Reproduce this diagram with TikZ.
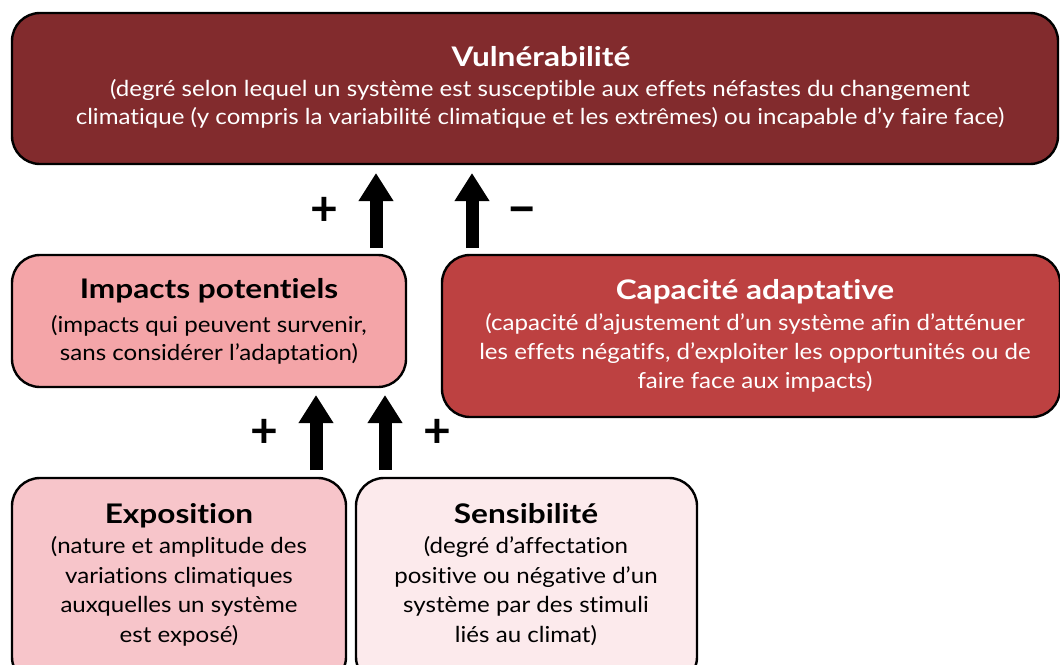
\documentclass[tikz,border=0pt]{standalone}
\usepackage{fontspec}
\setmainfont{Lato}
\newfontfamily\bodyf{Lato}[FakeStretch=1.095, Ligatures=NoCommon]
\newfontfamily\ttlf{Lato}[FakeStretch=1.17, Ligatures=NoCommon]
\usetikzlibrary{arrows.meta}
\definecolor{vulc}{HTML}{822B2D}
\definecolor{capc}{HTML}{BD4141}
\definecolor{impc}{HTML}{F4A5A8}
\definecolor{expc}{HTML}{F7C5CA}
\definecolor{sensc}{HTML}{FCEAEC}
\tikzset{
  box/.style={draw=black, line width=2.4pt, rounded corners=28pt},
  ttl/.style={anchor=base, inner sep=0pt, font=\ttlf\fontsize{27}{30}\selectfont\bfseries},
  ln/.style={anchor=base, inner sep=0pt, font=\bodyf\fontsize{22}{29}\selectfont},
  bigarrow/.style={line width=13pt, -{Triangle[width=33pt,length=28pt]}},
  sign/.style={inner sep=0pt, font=\fontsize{48}{48}\selectfont\bfseries}
}
\begin{document}
\begin{tikzpicture}[x=1pt,y=-1pt]
\useasboundingbox (0,0) rectangle (1060,664);
% boxes
\path[box, fill=vulc] (12,13) rectangle (1058,164);
\coordinate (vul) at (535,89);
\path[box, fill=impc] (12,255) rectangle (406,387);
\coordinate (imp) at (209,321);
\path[box, fill=capc] (442,255) rectangle (1060,417);
\coordinate (cap) at (751,336);
\path[box, fill=expc] (12,478) rectangle (346,685);
\coordinate (exp) at (179,580);
\path[box, fill=sensc] (356,478) rectangle (697,685);
\coordinate (sens) at (526,580);
% texts
\begin{scope}[text=white]
\node[ttl] (vt) at (541,66) {Vulnérabilité};
\node[ln] (v1) at (540,96) {(degré selon lequel un système est susceptible aux effets néfastes du changement};
\node[ln] (v2) at (540,124) {climatique (y compris la variabilité climatique et les extrêmes) ou incapable d’y faire face)};
\node[ttl] (ct) at (755,299) {Capacité adaptative};
\node[ln] (c1) at (755,330) {(capacité d’ajustement d’un système afin d’atténuer};
\node[ln] (c2) at (755,359) {les effets négatifs, d’exploiter les opportunités ou de};
\node[ln] (c3) at (755,388) {faire face aux impacts)};
\end{scope}
\node[ttl] (it) at (209,298) {Impacts potentiels};
\node[ln] (i1) at (209,332) {(impacts qui peuvent survenir,};
\node[ln] (i2) at (209,360) {sans considérer l’adaptation)};
\node[ttl] (et) at (179,523) {Exposition};
\node[ln] (e1) at (179,553) {(nature et amplitude des};
\node[ln] (e2) at (179,583) {variations climatiques};
\node[ln] (e3) at (179,612) {auxquelles un système};
\node[ln] (e4) at (179,642) {est exposé)};
\node[ttl] (st) at (526,523) {Sensibilité};
\node[ln] (s1) at (526,553) {(degré d’affectation};
\node[ln] (s2) at (526,583) {positive ou négative d’un};
\node[ln] (s3) at (526,612) {système par des stimuli};
\node[ln] (s4) at (526,642) {liés au climat)};
% arrows
\coordinate (a1s) at (376,248); \coordinate (a1e) at (376,173);
\coordinate (a2s) at (472,248); \coordinate (a2e) at (472,173);
\coordinate (a3s) at (316,470); \coordinate (a3e) at (316,395);
\coordinate (a4s) at (385,470); \coordinate (a4e) at (385,395);
\draw[bigarrow] (a1s) -- (a1e);
\draw[bigarrow] (a2s) -- (a2e);
\draw[bigarrow] (a3s) -- (a3e);
\draw[bigarrow] (a4s) -- (a4e);
% signs
\node[sign] (p1) at (324,211) {+};
\node[sign, font=\fontsize{54}{54}\selectfont\bfseries, yshift=-5pt] (m1) at (522,211) {–};
\node[sign] (p2) at (264,433) {+};
\node[sign] (p3) at (437,433) {+};
\end{tikzpicture}
\end{document}
